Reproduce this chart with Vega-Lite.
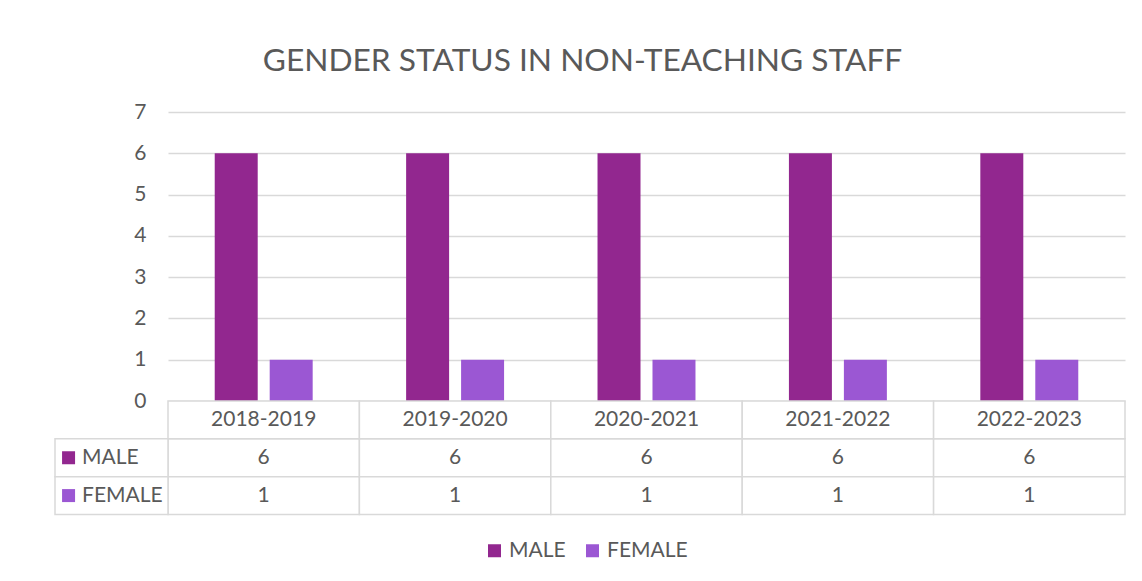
{
  "$schema": "https://vega.github.io/schema/vega-lite/v6.json",
  "width": 957,
  "height": 289,
  "autosize": {"type": "none"},
  "padding": {"left": 168, "top": 112, "right": 17, "bottom": 180},
  "background": "white",
  "config": {
    "font": "Lato",
    "view": {"stroke": null},
    "text": {"font": "Lato", "fontSize": 21, "fill": "#595959"}
  },
  "title": {
    "text": "GENDER STATUS IN NON-TEACHING STAFF",
    "font": "Lato",
    "fontSize": 31.7,
    "fontWeight": "normal",
    "color": "#595959",
    "anchor": "middle",
    "dx": -64,
    "offset": 23
  },
  "data": {
    "values": [
      {"year": "2018-2019", "series": "MALE", "value": 6},
      {"year": "2018-2019", "series": "FEMALE", "value": 1},
      {"year": "2019-2020", "series": "MALE", "value": 6},
      {"year": "2019-2020", "series": "FEMALE", "value": 1},
      {"year": "2020-2021", "series": "MALE", "value": 6},
      {"year": "2020-2021", "series": "FEMALE", "value": 1},
      {"year": "2021-2022", "series": "MALE", "value": 6},
      {"year": "2021-2022", "series": "FEMALE", "value": 1},
      {"year": "2022-2023", "series": "MALE", "value": 6},
      {"year": "2022-2023", "series": "FEMALE", "value": 1}
    ]
  },
  "resolve": {"scale": {"x": "independent", "y": "independent"}, "axis": {"x": "independent", "y": "independent"}},
  "layer": [
    {
      "mark": {"type": "bar"},
      "encoding": {
        "x": {"field": "year", "type": "nominal", "axis": null, "scale": {"paddingInner": 0, "paddingOuter": 0}},
        "xOffset": {"field": "series", "type": "nominal", "sort": ["MALE", "FEMALE"], "scale": {"domain": ["MALE", "FEMALE"], "paddingInner": 0.218, "paddingOuter": 0.85}},
        "y": {
          "field": "value", "type": "quantitative",
          "scale": {"domain": [0, 7], "nice": false},
          "axis": {
            "title": null, "values": [0, 1, 2, 3, 4, 5, 6, 7], "domain": false, "ticks": false, "tickSize": 0,
            "labelPadding": 22, "labelFont": "Lato", "labelFontSize": 21, "labelColor": "#595959",
            "grid": true, "gridColor": "#d9d9d9", "gridWidth": 1.5
          }
        },
        "color": {
          "field": "series", "type": "nominal",
          "scale": {"domain": ["MALE", "FEMALE"], "range": ["#92278F", "#9B57D3"]},
          "legend": {
            "title": null, "orient": "none", "direction": "horizontal", "legendX": 316, "legendY": 428,
            "symbolType": "square", "symbolSize": 169, "symbolStrokeWidth": 0, "symbolOpacity": 1,
            "labelFont": "Lato", "labelFontSize": 21, "labelColor": "#595959", "labelOffset": 4, "columnPadding": 16
          }
        }
      }
    },
    {
      "mark": {"type": "rect", "fill": "white", "stroke": "#d9d9d9", "strokeWidth": 1.5},
      "encoding": {
        "x": {"field": "year", "type": "nominal", "axis": null, "scale": {"paddingInner": 0, "paddingOuter": 0}},
        "y": {"field": "series", "type": "nominal", "axis": null, "scale": {"type": "band", "domain": ["hdr", "MALE", "FEMALE"], "range": [289, 402.5], "paddingInner": 0, "paddingOuter": 0}}
      }
    },
    {
      "transform": [{"filter": "datum.series === 'MALE'"}],
      "mark": {"type": "rect", "fill": "white", "stroke": "#d9d9d9", "strokeWidth": 1.5},
      "encoding": {
        "x": {"field": "year", "type": "nominal", "axis": null, "scale": {"paddingInner": 0, "paddingOuter": 0}},
        "y": {"datum": "hdr", "type": "nominal", "axis": null, "scale": {"type": "band", "domain": ["hdr", "MALE", "FEMALE"], "range": [289, 402.5], "paddingInner": 0, "paddingOuter": 0}}
      }
    },
    {
      "mark": {"type": "text", "baseline": "middle", "align": "center"},
      "encoding": {
        "x": {"field": "year", "type": "nominal", "axis": null, "scale": {"paddingInner": 0, "paddingOuter": 0}},
        "y": {"field": "series", "type": "nominal", "axis": null, "scale": {"type": "band", "domain": ["hdr", "MALE", "FEMALE"], "range": [289, 402.5], "paddingInner": 0, "paddingOuter": 0}},
        "text": {"field": "value", "type": "quantitative"}
      }
    },
    {
      "transform": [{"filter": "datum.series === 'MALE'"}],
      "mark": {"type": "text", "baseline": "middle", "align": "center"},
      "encoding": {
        "x": {"field": "year", "type": "nominal", "axis": null, "scale": {"paddingInner": 0, "paddingOuter": 0}},
        "y": {"datum": "hdr", "type": "nominal", "axis": null, "scale": {"type": "band", "domain": ["hdr", "MALE", "FEMALE"], "range": [289, 402.5], "paddingInner": 0, "paddingOuter": 0}},
        "text": {"field": "year", "type": "nominal"}
      }
    },
    {
      "transform": [{"filter": "datum.year === '2018-2019'"}],
      "mark": {"type": "rect", "fill": "white", "stroke": "#d9d9d9", "strokeWidth": 1.5},
      "encoding": {
        "x": {"datum": "legend", "type": "nominal", "axis": null, "scale": {"type": "band", "domain": ["legend"], "range": [-113, 0], "paddingInner": 0, "paddingOuter": 0}},
        "y": {"field": "series", "type": "nominal", "axis": null, "scale": {"type": "band", "domain": ["hdr", "MALE", "FEMALE"], "range": [289, 402.5], "paddingInner": 0, "paddingOuter": 0}}
      }
    },
    {
      "transform": [{"filter": "datum.year === '2018-2019'"}],
      "mark": {"type": "point", "shape": "square", "size": 169, "filled": true, "opacity": 1},
      "encoding": {
        "x": {"datum": "legend", "type": "nominal", "bandPosition": 0.12, "axis": null, "scale": {"type": "band", "domain": ["legend"], "range": [-113, 0], "paddingInner": 0, "paddingOuter": 0}},
        "y": {"field": "series", "type": "nominal", "axis": null, "scale": {"type": "band", "domain": ["hdr", "MALE", "FEMALE"], "range": [289, 402.5], "paddingInner": 0, "paddingOuter": 0}},
        "color": {"field": "series", "type": "nominal"}
      }
    },
    {
      "transform": [{"filter": "datum.year === '2018-2019'"}],
      "mark": {"type": "text", "baseline": "middle", "align": "left"},
      "encoding": {
        "x": {"datum": "legend", "type": "nominal", "bandPosition": 0.24, "axis": null, "scale": {"type": "band", "domain": ["legend"], "range": [-113, 0], "paddingInner": 0, "paddingOuter": 0}},
        "y": {"field": "series", "type": "nominal", "axis": null, "scale": {"type": "band", "domain": ["hdr", "MALE", "FEMALE"], "range": [289, 402.5], "paddingInner": 0, "paddingOuter": 0}},
        "text": {"field": "series", "type": "nominal"}
      }
    }
  ]
}
